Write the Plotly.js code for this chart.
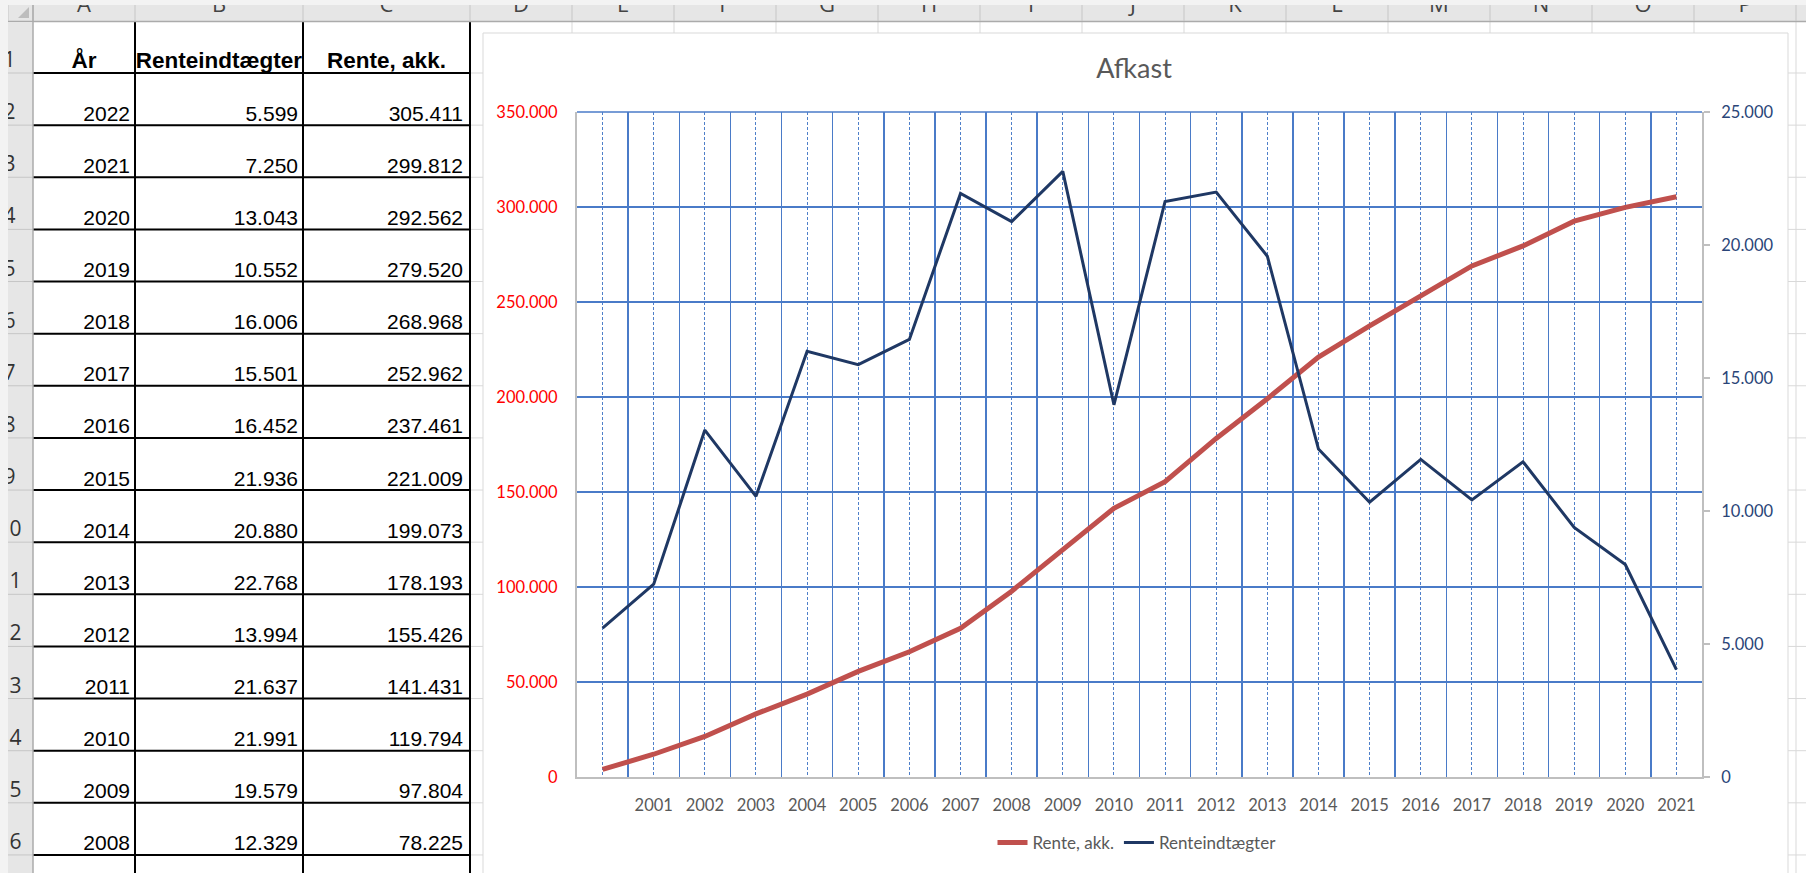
<!DOCTYPE html>
<html><head><meta charset="utf-8">
<script src="https://cdn.plot.ly/plotly-3.0.1.min.js"></script>
<style>html,body{margin:0;padding:0;background:#fff;overflow:hidden}#chart{width:1806px;height:873px}</style>
</head><body><div id="chart"></div>
<script>
const W = 1806, H = 873;

// ---------------- data ----------------
const xLabels = ['', '2001', '2002', '2003', '2004', '2005', '2006', '2007', '2008', '2009', '2010',
  '2011', '2012', '2013', '2014', '2015', '2016', '2017', '2018', '2019', '2020', '2021'];
const renteAkk = [3990, 11980, 21360, 33210, 43630, 55570, 65900, 78225, 97804, 119794, 141431,
  155426, 178193, 199073, 221009, 237461, 252962, 268968, 279520, 292562, 299812, 305411];
const renteindtaegter = [5599, 7250, 13043, 10552, 16006, 15501, 16452, 21936, 20880, 22768, 13994,
  21637, 21991, 19579, 12329, 10330, 11940, 10420, 11850, 9380, 7990, 4040];

const tableHeaders = ['År', 'Renteindtægter', 'Rente, akk.'];
const tableYears = [2022, 2021, 2020, 2019, 2018, 2017, 2016, 2015, 2014, 2013, 2012, 2011, 2010, 2009, 2008];
const tableRenteindtaegter = [5599, 7250, 13043, 10552, 16006, 15501, 16452, 21936, 20880, 22768, 13994, 21637, 21991, 19579, 12329];
const tableRenteAkk = [305411, 299812, 292562, 279520, 268968, 252962, 237461, 221009, 199073, 178193, 155426, 141431, 119794, 97804, 78225];
const columnLetters = ['A', 'B', 'C', 'D', 'E', 'F', 'G', 'H', 'I', 'J', 'K', 'L', 'M', 'N', 'O', 'P', 'Q'];
const rowNumbers = [1, 2, 3, 4, 5, 6, 7, 8, 9, 10, 11, 12, 13, 14, 15, 16];

// ---------------- layout constants ----------------
const px = x => x / W;
const py = y => 1 - y / H;
const colEdges = [33, 135, 303, 470];
for (let k = 1; k <= 14; k++) colEdges.push(470 + 102 * k);
const rowPitch = 52.13;
const rowEdges = [];
for (let k = 0; k <= 16; k++) rowEdges.push(73 + k * rowPitch);
const rowBottom = r => 73 + (r - 1) * rowPitch;   // r = 1-based row number
const plotLeft = 577, plotRight = 1702, plotTop = 112, plotBottom = 777;

const fmt = v => String(Math.round(v)).replace(/\B(?=(\d{3})+(?!\d))/g, '.');

const shapes = [];
function rect(x0, y0, x1, y1, fill, lc, lw) {
  shapes.push({type: 'rect', xref: 'paper', yref: 'paper', layer: 'below',
    x0: px(x0), x1: px(x1), y0: py(y1), y1: py(y0), fillcolor: fill,
    line: {color: lc || 'rgba(0,0,0,0)', width: lw || 0}});
}
function seg(x0, y0, x1, y1, color, w) {
  shapes.push({type: 'line', xref: 'paper', yref: 'paper', layer: 'below',
    x0: px(x0), x1: px(x1), y0: py(y0), y1: py(y1), line: {color: color, width: w}});
}

// sheet gridlines
colEdges.slice(4).forEach(x => seg(x, 22, x, H, '#D9D9D9', 1));
rowEdges.forEach(y => seg(33, y, W, y, '#D9D9D9', 1));
// table borders
[135, 303, 470].forEach(x => seg(x, 22, x, H, '#000000', 2));
rowEdges.forEach(y => seg(33, y, 471, y, '#000000', 2));
// chart object
rect(483, 33, 1788, 905, '#FFFFFF', '#D9D9D9', 1);
// top edge gridline of the plot (Plotly omits the gridline at the range edge)
seg(plotLeft, plotTop, plotRight, plotTop, '#4A7BC8', 1.5);
// window frame strips and headers
rect(0, 0, W, 5, '#F3F3F3');
rect(8, 5, W, 22, '#E6E6E6');
seg(8, 21.5, W, 21.5, '#ABABAB', 1.5);
[8].concat(colEdges).forEach(x => seg(x, 5, x, 21, '#C6C6C6', 1));
rect(8, 22, 33, H, '#E6E6E6');
rowEdges.forEach(y => seg(8, y, 33, y, '#C6C6C6', 1));
seg(33, 5, 33, H, '#ABABAB', 1.5);
rect(0, 0, 8, H, '#F3F3F3');
shapes.push({type: 'path', xref: 'paper', yref: 'paper', layer: 'below',
  path: `M ${px(29)},${py(18)} L ${px(29)},${py(7)} L ${px(18)},${py(18)} Z`,
  fillcolor: '#BDBDBD', line: {width: 0}});

const yMax = 350000, y2Max = 25000;

// ---------------- traces ----------------
const idx = xLabels.map((_, i) => i);
const boundaries = idx.map(i => i - 0.5).concat([idx.length - 0.5]);

const traces = [
  {type: 'scatter', mode: 'lines', name: 'Rente, akk.', x: idx, y: renteAkk, xaxis: 'x', yaxis: 'y',
    line: {color: '#C0504D', width: 5}},
  {type: 'scatter', mode: 'lines', name: 'Renteindtægter', x: idx, y: renteindtaegter, xaxis: 'x', yaxis: 'y2',
    line: {color: '#1F3864', width: 3}}
];

// column header letters (clipped at top like the screenshot)
const letterFs = 22;
traces.push({type: 'scatter', mode: 'text', showlegend: false, xaxis: 'x3', yaxis: 'y3',
  x: columnLetters.map((_, i) => (colEdges[i] + colEdges[i + 1]) / 2),
  y: columnLetters.map(() => 11.5 - 0.25 * letterFs),
  text: columnLetters, textposition: 'middle center', cliponaxis: true,
  textfont: {family: 'Open Sans', size: letterFs, color: '#444444'}});

// row numbers (clipped at left)
const rowFs = 21;
traces.push({type: 'scatter', mode: 'text', showlegend: false, xaxis: 'x4', yaxis: 'y4',
  x: rowNumbers.map(() => 9.5),
  y: rowNumbers.map(r => rowBottom(r) - 6 - 0.25 * rowFs),
  text: rowNumbers.map(String), textposition: 'middle center', cliponaxis: true,
  textfont: {family: 'Open Sans', size: rowFs, color: '#333333'}});

// table header
const hFs = 22.5, bFs = 21;
traces.push({type: 'scatter', mode: 'text', showlegend: false, xaxis: 'x5', yaxis: 'y5',
  x: tableHeaders.map((_, i) => (colEdges[i] + colEdges[i + 1]) / 2),
  y: tableHeaders.map(() => rowBottom(1) - 5 - 0.25 * hFs),
  text: tableHeaders, textposition: 'middle center',
  textfont: {family: 'Liberation Sans, Arial', size: hFs, color: '#000000', weight: 'bold'}});

// table body columns
const bodyCols = [
  {vals: tableYears.map(String), right: 130},
  {vals: tableRenteindtaegter.map(fmt), right: 298},
  {vals: tableRenteAkk.map(fmt), right: 463}
];
bodyCols.forEach(c => {
  traces.push({type: 'scatter', mode: 'text', showlegend: false, xaxis: 'x5', yaxis: 'y5',
    x: c.vals.map(() => c.right),
    y: c.vals.map((_, i) => rowBottom(i + 2) - 4.5 - 0.25 * bFs),
    text: c.vals, textposition: 'middle left',
    textfont: {family: 'Liberation Sans, Arial', size: bFs, color: '#000000'}});
});

const hidden = {visible: false, fixedrange: true, autorange: false};
const tickFont = {family: 'Lato', size: 16.5, color: '#595959'};

const layout = {
  width: W, height: H,
  margin: {l: 0, r: 0, t: 0, b: 0, pad: 0},
  paper_bgcolor: '#FFFFFF', plot_bgcolor: 'rgba(0,0,0,0)',
  separators: ',.',
  hovermode: false,
  title: {text: 'Afkast', x: px(1134), xanchor: 'center', y: py(69), yanchor: 'middle',
    font: {family: 'Lato', size: 27, color: '#595959'}},
  showlegend: true,
  legend: {orientation: 'h', x: px(1137), xanchor: 'center', y: py(843), yanchor: 'middle',
    font: {family: 'Lato', size: 17, color: '#595959'}, bgcolor: 'rgba(0,0,0,0)', traceorder: 'normal'},
  xaxis: {domain: [px(plotLeft), px(plotRight)], anchor: 'y', range: [-0.5, idx.length - 0.5], fixedrange: true,
    tickmode: 'array', tickvals: idx, ticktext: xLabels, ticks: '',
    showgrid: true, gridcolor: '#4F7FC9', gridwidth: 1, griddash: '3px,2px',
    minor: {tickmode: 'array', tickvals: boundaries, showgrid: true, gridcolor: '#4A7BC8', gridwidth: 1.5, griddash: 'solid', ticks: ''},
    showline: true, linecolor: '#BFBFBF', linewidth: 2, zeroline: false,
    tickfont: tickFont, ticklabelstandoff: 12},
  yaxis: {domain: [py(plotBottom), py(plotTop)], anchor: 'x', range: [0, yMax], fixedrange: true,
    tickmode: 'linear', tick0: 0, dtick: 50000, tickformat: ',d', ticks: '',
    showgrid: true, gridcolor: '#4A7BC8', gridwidth: 1.5,
    showline: true, linecolor: '#BFBFBF', linewidth: 2, zeroline: false,
    tickfont: {family: 'Lato', size: 16.5, color: '#FF0000'}, ticklabelstandoff: 14},
  yaxis2: {overlaying: 'y', side: 'right', anchor: 'x', range: [0, y2Max], fixedrange: true,
    tickmode: 'linear', tick0: 0, dtick: 5000, tickformat: ',d',
    showgrid: false, showline: true, linecolor: '#BFBFBF', linewidth: 2, zeroline: false,
    ticks: 'outside', ticklen: 6, tickwidth: 1.5, tickcolor: '#BFBFBF',
    tickfont: {family: 'Lato', size: 16.5, color: '#2A4578'}, ticklabelstandoff: 8},
  xaxis3: Object.assign({domain: [px(8), 1], anchor: 'y3', range: [8, W]}, hidden),
  yaxis3: Object.assign({domain: [py(22), py(5)], anchor: 'x3', range: [22, 5]}, hidden),
  xaxis4: Object.assign({domain: [px(8), px(33)], anchor: 'y4', range: [8, 33]}, hidden),
  yaxis4: Object.assign({domain: [0, py(22)], anchor: 'x4', range: [H, 22]}, hidden),
  xaxis5: Object.assign({domain: [px(33), px(470)], anchor: 'y5', range: [33, 470]}, hidden),
  yaxis5: Object.assign({domain: [0, py(22)], anchor: 'x5', range: [H, 22]}, hidden),
  shapes: shapes
};

Plotly.newPlot('chart', traces, layout, {displayModeBar: false, staticPlot: true});
</script>
</body></html>
